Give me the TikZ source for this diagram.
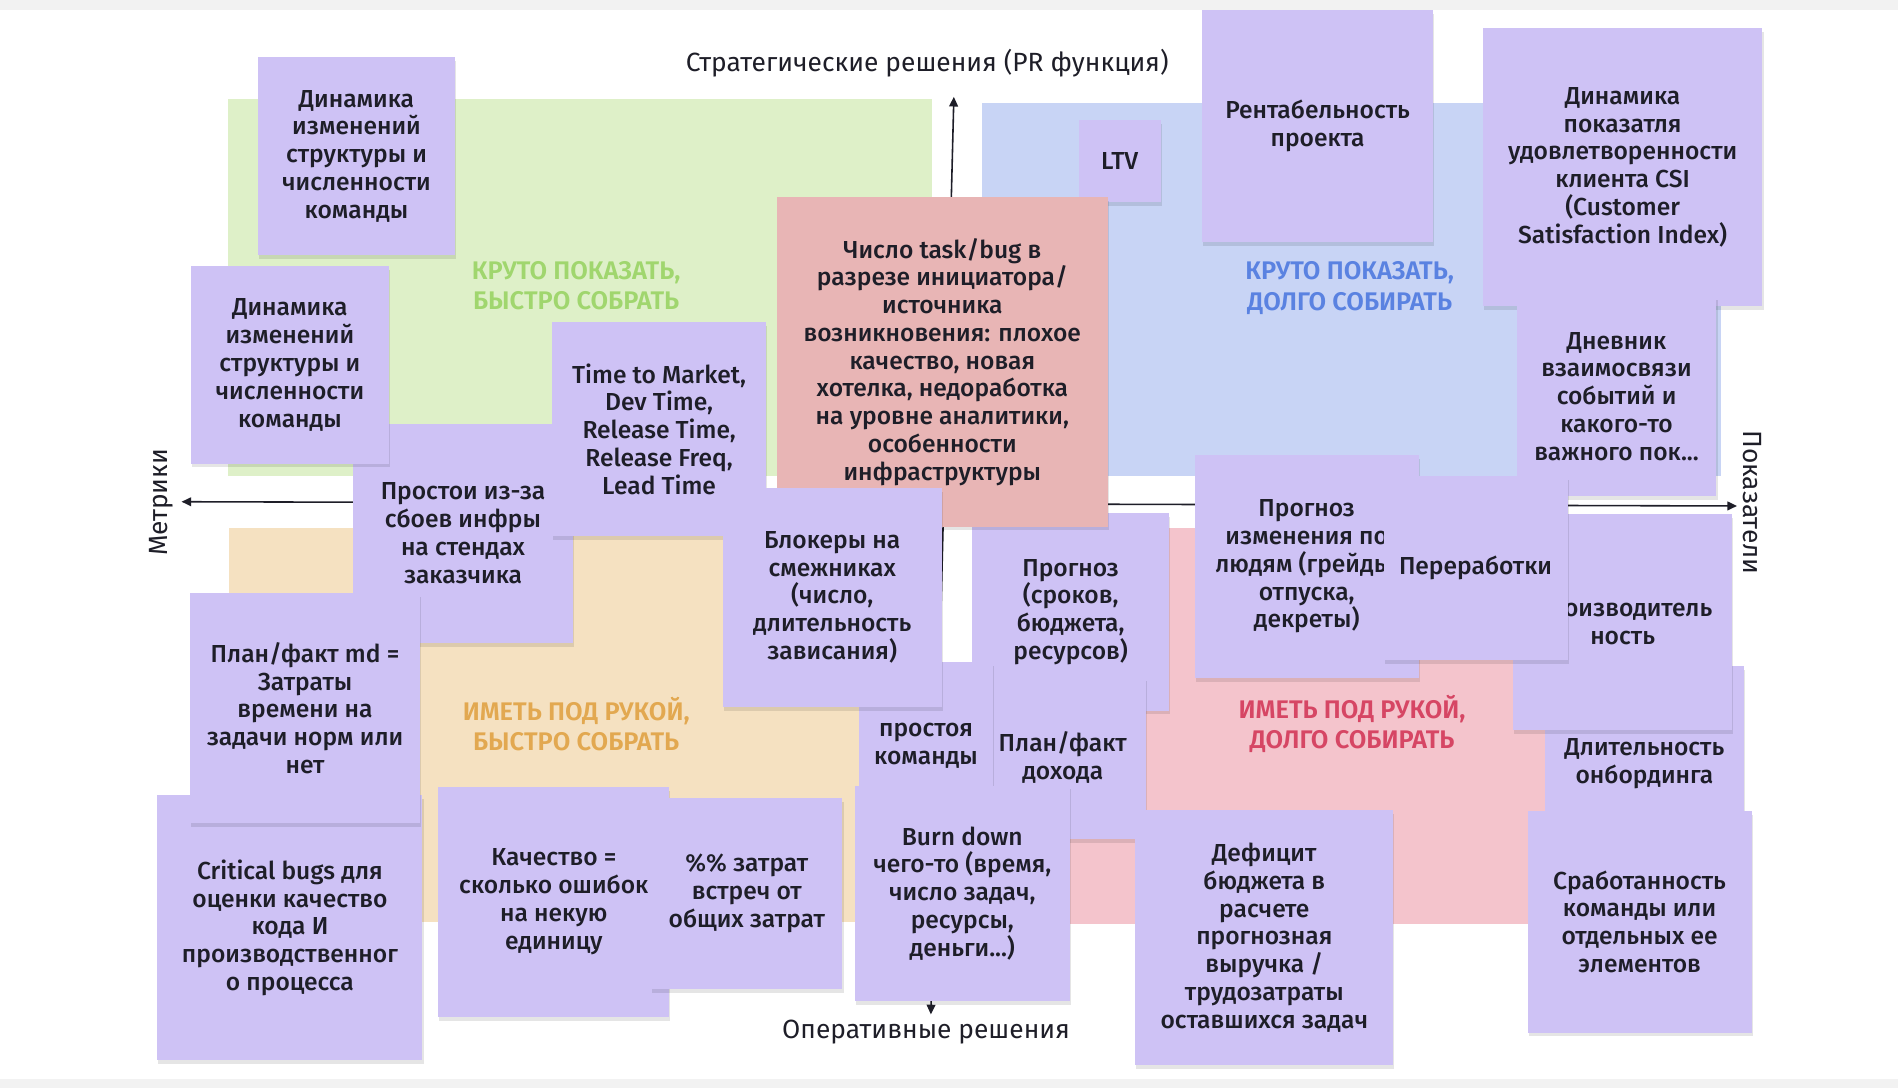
\documentclass[tikz,border=0pt]{standalone}
\usepackage{fontspec}
\setmainfont{Fira Sans}[UprightFont={* Medium},BoldFont={* SemiBold}]
\newfontfamily\axisfont{Fira Sans}
\usetikzlibrary{shadows,arrows.meta}
\newlength\un \setlength\un{0.02421cm}
\definecolor{notec}{RGB}{206,194,245}
\definecolor{redn}{RGB}{232,181,181}
\definecolor{qgreen}{RGB}{222,240,200}
\definecolor{qblue}{RGB}{200,212,245}
\definecolor{qbeige}{RGB}{245,225,193}
\definecolor{qpink}{RGB}{244,196,204}
\definecolor{lgreen}{RGB}{160,214,110}
\definecolor{lblue}{RGB}{90,130,225}
\definecolor{lorange}{RGB}{226,168,80}
\definecolor{lred}{RGB}{214,70,100}
\definecolor{ink}{RGB}{30,30,40}
\tikzset{
  note/.style={rectangle, fill=notec, inner sep=2pt, outer sep=0pt, align=center, text=ink,
    font=\fontsize{14}{15.8}\selectfont,
    drop shadow={shadow xshift=0.6pt, shadow yshift=-2.2pt, opacity=0.10, fill=black}},
  qlabel/.style={align=center, font=\bfseries\fontsize{14.5}{17.2}\selectfont},
  axislabel/.style={font=\axisfont\fontsize{15}{18}\selectfont, text=ink},
  axisline/.style={draw=ink, line width=0.9pt, {Triangle[length=5.5pt,width=5pt]}-{Triangle[length=5.5pt,width=5pt]}}
}
\newcommand\sticky[7]{%
  \node[note,#1, minimum width={(#5-#3)*\un}, minimum height={(#6-#4)*\un}]
    (#2) at ({(#3+#5)/2},{(#4+#6)/2}) {#7};}
\begin{document}
\begin{tikzpicture}[x=0.02421cm, y=-0.02421cm]
\useasboundingbox (0,0) rectangle (1568,899);
\fill[white] (0,0) rectangle (1568,899);
\fill[black!5] (0,0) rectangle (1568,8);
\fill[black!5] (0,891) rectangle (1568,899);
% quadrants
\fill[qgreen] (188,82) rectangle (770,393);
\fill[qblue] (811,85) rectangle (1422,393);
\fill[qbeige] (189,436) rectangle (770,762);
\fill[qpink] (811,436) rectangle (1422,763);
% axes
\coordinate (vt) at (788,80);
\coordinate (vb) at (769,838);
\coordinate (hl) at (150,414.5);
\coordinate (hr) at (1435,418);
\draw[axisline] (vb) -- (vt);
\draw[axisline] (hl) -- (hr);
% quadrant labels
\node[qlabel, text=lgreen] (qa) at (476,236) {КРУТО ПОКАЗАТЬ,\\БЫСТРО СОБРАТЬ};
\node[qlabel, text=lblue] (qb) at (1115,238) {КРУТО ПОКАЗАТЬ,\\ДОЛГО СОБИРАТЬ};
\node[qlabel, text=lorange] (qc) at (476,598) {ИМЕТЬ ПОД РУКОЙ,\\БЫСТРО СОБРАТЬ};
\node[qlabel, text=lred] (qd) at (1117,598) {ИМЕТЬ ПОД РУКОЙ,\\ДОЛГО СОБИРАТЬ};
% notes, left half
\sticky{}{dyn1}{213}{47}{376}{211}{Динамика\\изменений\\структуры и\\численности\\команды}
\sticky{}{prost}{292}{350}{473}{531}{Простои из-за\\сбоев инфры\\на стендах\\заказчика}
\sticky{}{dyn2}{158}{220}{321}{383}{Динамика\\изменений\\структуры и\\численности\\команды}
\sticky{}{ttm}{456}{266}{633}{443}{Time to Market,\\Dev Time,\\Release Time,\\Release Freq,\\Lead Time}
\sticky{}{progn}{803}{424}{966}{587}{Прогноз\\(сроков,\\бюджета,\\ресурсов)}
\sticky{}{ltv}{891}{99}{959}{167}{LTV}
\sticky{fill=redn}{tasks}{642}{163}{915}{435}{Число task/bug в\\разрезе инициатора/\\источника\\возникновения: плохое\\качество, новая\\хотелка, недоработка\\на уровне аналитики,\\особенности\\инфраструктуры}
\sticky{}{dohod}{809}{559}{947}{693}{План/факт\\дохода}
\sticky{}{prostoy}{710}{547}{820}{657}{\strut\\простоя\\команды}
\sticky{}{block}{597}{403}{778}{584}{Блокеры на\\смежниках\\(число,\\длительность\\зависания)}
\sticky{}{crit}{130}{657}{349}{876}{Critical bugs для\\оценки качество\\кода И\\производственног\\о процесса}
\sticky{}{planmd}{157}{490}{347}{680}{План/факт md =\\Затраты\\времени на\\задачи норм или\\нет}
\sticky{}{qual}{362}{650}{553}{840}{Качество =\\сколько ошибок\\на некую\\единицу}
\sticky{}{meet}{538}{659}{696}{817}{\%\% затрат\\встреч от\\общих затрат}
\sticky{}{burn}{706}{649}{884}{827}{Burn down\\чего-то (время,\\число задач,\\ресурсы,\\деньги...)}
% notes, right half
\sticky{}{rent}{993}{8}{1184}{200}{Рентабельность\\проекта}
\sticky{}{csi}{1225}{23}{1456}{253}{Динамика\\показатля\\удовлетворенности\\клиента CSI\\(Customer\\Satisfaction Index)}
\sticky{}{diary}{1253}{245}{1418}{410}{Дневник\\взаимосвязи\\событий и\\какого-то\\важного пок...}
\sticky{}{onb}{1276}{550}{1441}{712}{Длительность\\онбординга}
\sticky{}{people}{987}{376}{1172}{560}{Прогноз\\изменения по\\людям (грейды,\\отпуска,\\декреты)}
\sticky{}{perf}{1250}{425}{1431}{603}{Производитель\\ность}
\sticky{}{over}{1143}{393}{1295}{545}{Переработки}
\sticky{}{work}{1262}{670}{1447}{853}{Сработанность\\команды или\\отдельных ее\\элементов}
\sticky{}{deficit}{938}{669}{1151}{880}{Дефицит\\бюджета в\\расчете\\прогнозная\\выручка /\\трудозатраты\\оставшихся задач}
% axis labels
\node[axislabel] (strat) at (766,52) {Стратегические решения (PR функция)};
\node[axislabel] (oper) at (765,853) {Оперативные решения};
\node[axislabel, rotate=90] (metr) at (133,415) {Метрики};
\node[axislabel, rotate=-90] (pokaz) at (1448,415) {Показатели};
\end{tikzpicture}
\end{document}
